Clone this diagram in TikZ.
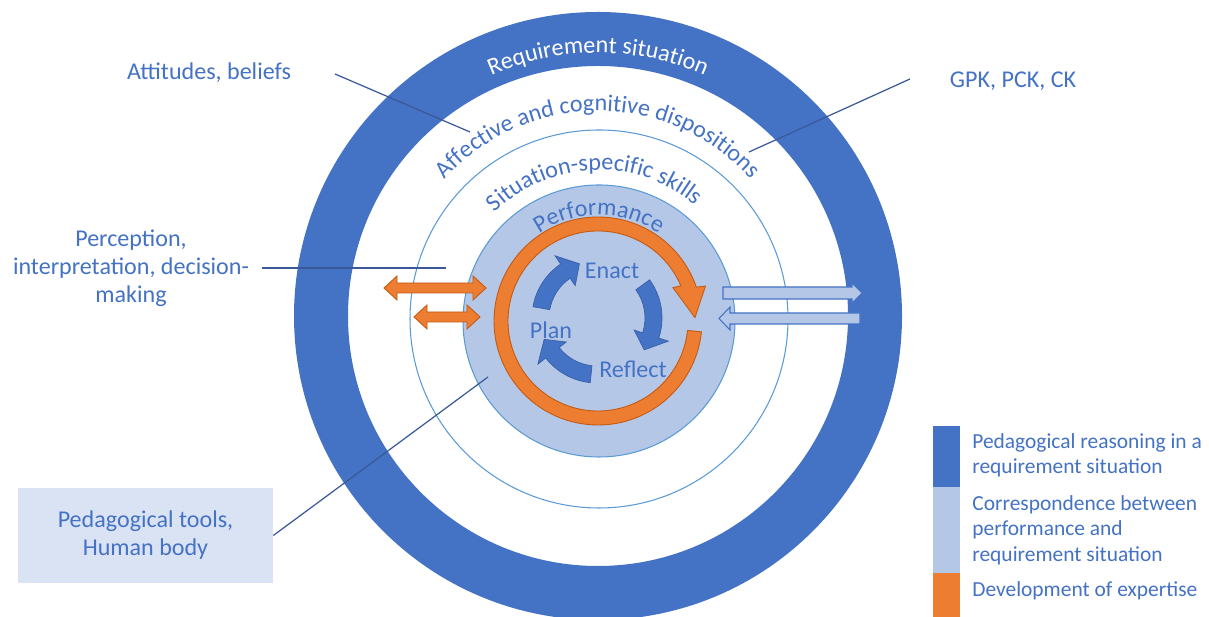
\documentclass[tikz,border=0pt]{standalone}
\usepackage{fontspec}
\setmainfont{Carlito}
\usetikzlibrary{decorations.text}
\definecolor{ringblue}{HTML}{4472C4}
\definecolor{lightblue}{HTML}{B4C7E7}
\definecolor{thinblue}{HTML}{5B9BD5}
\definecolor{orangefill}{HTML}{ED7D31}
\definecolor{orangeline}{HTML}{C55A11}
\definecolor{txtblue}{HTML}{4472C4}
\definecolor{calloutcol}{HTML}{3B5998}
\definecolor{boxfill}{HTML}{DAE3F3}
\newcommand{\lblfont}{\fontsize{13.7}{16}\selectfont}
\newcommand{\legfont}{\fontsize{12.2}{14.4}\selectfont}
\begin{document}
\begin{tikzpicture}[x=0.02cm,y=0.02cm,
  lbl/.style={text=txtblue, font=\lblfont, inner sep=0pt, align=center},
  legendtext/.style={text=txtblue, font=\legfont, inner sep=0pt, align=left, anchor=west},
  calloutline/.style={draw=calloutcol, line width=0.7pt},
  orangearrow/.style={fill=orangefill, draw=orangeline, line width=0.5pt, line join=miter},
  bluearrow/.style={fill=ringblue, draw=ringblue!85!black, line width=0.4pt},
  corrarrow/.style={fill=lightblue, draw=ringblue, line width=0.6pt},
  curvetext/.style={decorate, decoration={text along path, text align=center, text={#1}}}]
\useasboundingbox (0,0) rectangle (1209,617);
\clip (0,0) rectangle (1209,617);
\fill[white] (0,0) rectangle (1209,617);

% rings
\coordinate (O) at (598,301);
\fill[ringblue, even odd rule] (O) circle (304) (O) circle (250);
\draw[thinblue, line width=0.6pt] (599,298) circle (189);
\draw[thinblue, fill=lightblue, line width=0.6pt] (599,296) circle (136);

% curved texts
\begin{scope}[shift={(O)}]
  \path[curvetext={|\color{white}\lblfont|Requirement situation}] (150:263) arc[start angle=150, end angle=30, radius=263];
  \path[curvetext={|\color{txtblue}\lblfont|Affective and cognitive dispositions}] (160:205) arc[start angle=160, end angle=20, radius=205];
\end{scope}
\begin{scope}[shift={(599,298)}]
  \path[curvetext={|\color{txtblue}\lblfont|Situation-specific skills}] (162:149) arc[start angle=162, end angle=22, radius=149];
\end{scope}
\begin{scope}[shift={(599,296)}]
  \path[curvetext={|\color{txtblue}\lblfont|Performance}] (160:106) arc[start angle=160, end angle=20, radius=106];
\end{scope}

% orange development arrow
\begin{scope}[shift={(598,296)}]
  \path[orangearrow] (-6:104) arc[start angle=-6, end angle=-341, radius=104]
    -- (18:113) -- (2:97) -- (24:82) -- (23:90)
    arc[start angle=-337, end angle=-6, radius=90] -- cycle;
\end{scope}

% blue cycle arrows
\begin{scope}[shift={(597,299)}]
  \path[bluearrow] (170:65) arc[start angle=170, end angle=124, radius=65]
    -- (124:75) -- (108:57) -- (124:39) -- (124:48)
    arc[start angle=124, end angle=170, radius=48] -- cycle;
  \path[bluearrow] (36:65) arc[start angle=36, end angle=-18, radius=65]
    -- (-18:75) -- (-34:57) -- (-18:39) -- (-18:48)
    arc[start angle=-18, end angle=36, radius=48] -- cycle;
  \path[bluearrow] (-96:65) arc[start angle=-96, end angle=-142, radius=65]
    -- (-142:75) -- (-158:57) -- (-142:39) -- (-142:48)
    arc[start angle=-142, end angle=-96, radius=48] -- cycle;
\end{scope}
\node[lbl] (enact) at (612,346) {Enact};
\node[lbl] (plan) at (551,287) {Plan};
\node[lbl] (reflect) at (633,248) {Reflect};

% orange double arrows (left)
\path[orangearrow] (384,329) -- (397,341) -- (397,334) -- (473,334) -- (473,341) -- (486,329)
  -- (473,317) -- (473,324) -- (397,324) -- (397,317) -- cycle;
\path[orangearrow] (414,300) -- (427,312) -- (427,305) -- (467,305) -- (467,312) -- (480,300)
  -- (467,288) -- (467,295) -- (427,295) -- (427,288) -- cycle;

% correspondence arrows (right)
\path[corrarrow] (723,318) -- (852,318) -- (852,314) -- (862,324) -- (852,334) -- (852,330) -- (723,330) -- cycle;
\path[corrarrow] (860,293) -- (730,293) -- (730,287) -- (719,298.5) -- (730,310) -- (730,304) -- (860,304) -- cycle;

% outside labels
\node[lbl] (att) at (209,544) {Attitudes, beliefs};
\node[lbl] (gpk) at (1013,536) {GPK, PCK, CK};
\node[lbl] (perc) at (131,349) {Perception,\\interpretation, decision-\\making};
\node[lbl, fill=boxfill, minimum width=5.1cm, minimum height=1.9cm] (tools) at (145.5,81.5) {Pedagogical tools,\\Human body};

% callout lines
\coordinate (attA) at (335,543);
\coordinate (attB) at (470,485);
\coordinate (gpkA) at (910,538);
\coordinate (gpkB) at (749,465);
\coordinate (percA) at (262,349);
\coordinate (percB) at (446,349);
\coordinate (toolsB) at (488,240);
\draw[calloutline] (attA) -- (attB);
\draw[calloutline] (gpkA) -- (gpkB);
\draw[calloutline] (percA) -- (percB);
\draw[calloutline] (tools.east) -- (toolsB);

% legend
\fill[ringblue] (933,130) rectangle (960,191);
\fill[lightblue] (933,44) rectangle (960,130);
\fill[orangefill] (933,-1) rectangle (960,44);
\node[legendtext] (leg1) at (972,162) {Pedagogical reasoning in a\\requirement situation};
\node[legendtext] (leg2) at (972,87) {Correspondence between\\performance and\\requirement situation};
\node[legendtext] (leg3) at (972,26) {Development of expertise};
\end{tikzpicture}
\end{document}
